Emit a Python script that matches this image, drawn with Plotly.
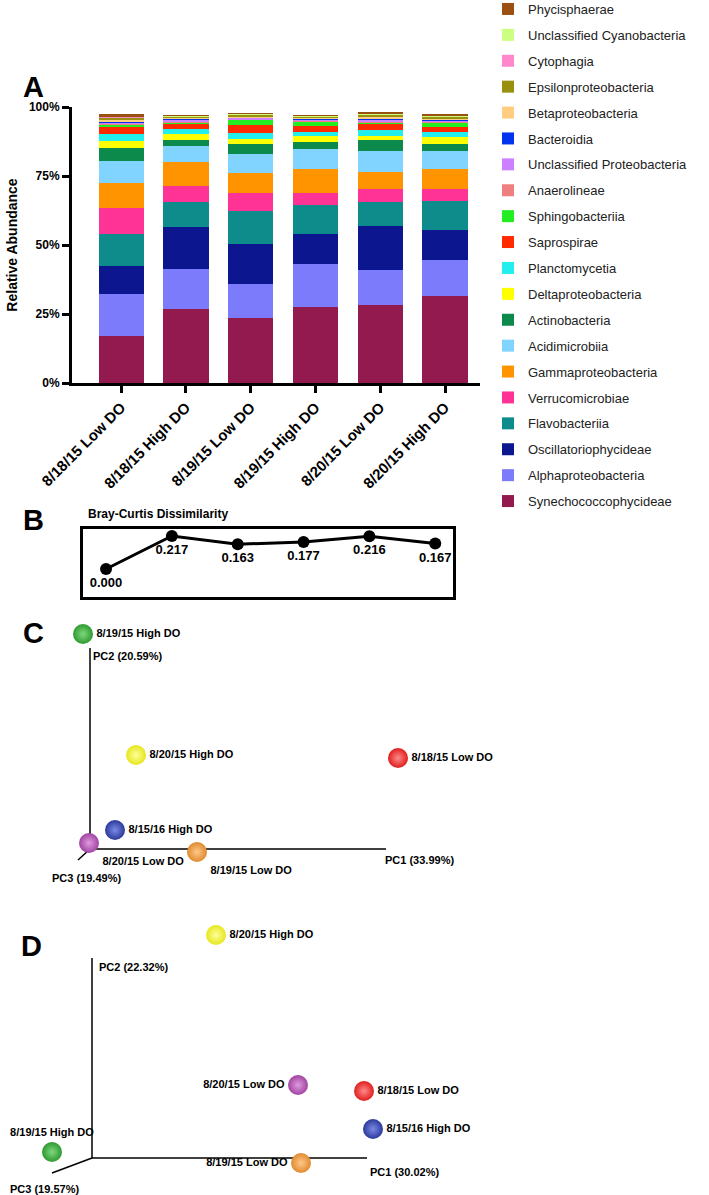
import plotly.graph_objects as go

W, H = 709, 1195

# ---------------- Panel A data (relative abundance, %) ----------------
samples = ["8/18/15 Low DO", "8/18/15 High DO", "8/19/15 Low DO",
           "8/19/15 High DO", "8/20/15 Low DO", "8/20/15 High DO"]

synechococcophycideae = [17.0, 26.9, 23.4, 27.6, 28.2, 31.6]
alphaproteobacteria = [15.4, 14.3, 12.5, 15.5, 12.7, 13.0]
oscillatoriophycideae = [10.0, 15.4, 14.6, 10.9, 16.1, 10.9]
flavobacteriia = [11.5, 9.1, 11.9, 10.5, 8.5, 10.4]
verrucomicrobiae = [9.6, 5.8, 6.6, 4.2, 4.9, 4.3]
gammaproteobacteria = [8.8, 8.4, 7.2, 8.7, 6.2, 7.4]
acidimicrobiia = [8.1, 6.0, 6.6, 7.3, 7.5, 6.5]
actinobacteria = [4.6, 2.1, 3.7, 2.6, 3.9, 2.4]
deltaproteobacteria = [2.7, 2.3, 1.9, 2.3, 1.5, 2.7]
planctomycetia = [2.6, 1.8, 2.3, 1.3, 2.2, 1.9]
saprospirae = [2.6, 2.0, 2.6, 2.2, 2.3, 1.8]
sphingobacteriia = [0.6, 0.3, 2.0, 1.6, 0.5, 1.5]
anaerolineae = [0.4, 0.5, 0.3, 0.3, 0.4, 0.3]
unclassified_proteobacteria = [0.6, 0.5, 0.5, 0.5, 0.5, 0.5]
bacteroidia = [0.3, 0.3, 0.2, 0.2, 0.3, 0.3]
betaproteobacteria = [0.5, 0.4, 0.4, 0.5, 0.8, 0.5]
epsilonproteobacteria = [0.8, 0.3, 0.4, 0.3, 0.6, 0.5]
cytophagia = [0.3, 0.2, 0.2, 0.2, 0.2, 0.2]
unclassified_cyanobacteria = [0.3, 0.2, 0.2, 0.2, 0.2, 0.2]
phycisphaerae = [0.6, 0.3, 0.2, 0.2, 0.4, 0.4]

taxa = [
    ("Synechococcophycideae", synechococcophycideae, "#931A4F"),
    ("Alphaproteobacteria", alphaproteobacteria, "#7B7BFB"),
    ("Oscillatoriophycideae", oscillatoriophycideae, "#0B168F"),
    ("Flavobacteriia", flavobacteriia, "#0E8C8C"),
    ("Verrucomicrobiae", verrucomicrobiae, "#FF3396"),
    ("Gammaproteobacteria", gammaproteobacteria, "#FF9400"),
    ("Acidimicrobiia", acidimicrobiia, "#80D4FF"),
    ("Actinobacteria", actinobacteria, "#0C8A4C"),
    ("Deltaproteobacteria", deltaproteobacteria, "#FFFF00"),
    ("Planctomycetia", planctomycetia, "#22EEEE"),
    ("Saprospirae", saprospirae, "#FF2A00"),
    ("Sphingobacteriia", sphingobacteriia, "#22EE22"),
    ("Anaerolineae", anaerolineae, "#F08080"),
    ("Unclassified Proteobacteria", unclassified_proteobacteria, "#CC80FF"),
    ("Bacteroidia", bacteroidia, "#0033EE"),
    ("Betaproteobacteria", betaproteobacteria, "#FFCC80"),
    ("Epsilonproteobacteria", epsilonproteobacteria, "#9A9010"),
    ("Cytophagia", cytophagia, "#FF88CC"),
    ("Unclassified Cyanobacteria", unclassified_cyanobacteria, "#CCFF80"),
    ("Phycisphaerae", phycisphaerae, "#9A5010"),
]
y_ticks = [0, 25, 50, 75, 100]
y_ticktext = ["0%", "25%", "50%", "75%", "100%"]

# ---------------- Panel B data ----------------
bray_curtis = [0.000, 0.217, 0.163, 0.177, 0.216, 0.167]

# ---------------- Panel C / D data (projected PCoA coordinates) ----------------
pcoa_samples = ["8/19/15 High DO", "8/20/15 High DO", "8/18/15 Low DO",
                "8/15/16 High DO", "8/20/15 Low DO", "8/19/15 Low DO"]
sample_colors = ["#2E9A2E", "#E6E61E", "#E01E1E", "#2B3A9A", "#A044A0", "#E08A30"]
sample_centers = ["#7FD77F", "#FFFF9A", "#FF8A8A", "#7C8AE6", "#E09AE0", "#FFC88A"]

pcoa_c_x = [-7, 46, 308, 25, -1, 107]
pcoa_c_y = [215, 94, 91, 19, 6, -3]
pcoa_c_textpos = ["middle right", "middle right", "middle right",
                  "middle right", "bottom right", "bottom right"]
pcoa_c_axes = {"PC1 (33.99%)": (296, 0), "PC2 (20.59%)": (0, 201), "PC3 (19.49%)": (-12, -11)}

pcoa_d_x = [-40, 124, 272, 281, 206, 209]
pcoa_d_y = [6, 223, 67, 29, 73, -5]
pcoa_d_textpos = ["top center", "middle right", "middle right",
                  "middle right", "middle left", "middle left"]
pcoa_d_axes = {"PC1 (30.02%)": (275, 0), "PC2 (22.32%)": (0, 200), "PC3 (19.57%)": (-40, -15)}


def dom_x(a, b):
    return [a / W, b / W]


def dom_y(top, bottom):
    return [1 - bottom / H, 1 - top / H]


NARROW = "Liberation Sans Narrow, Arial Narrow, Liberation Sans, Arial"
fig = go.Figure()

# Panel A bars
n = len(taxa)
for i, (name, vals, col) in enumerate(taxa):
    fig.add_trace(go.Bar(
        x=samples, y=vals, name=name, marker=dict(color=col, line=dict(width=0)),
        width=0.70, xaxis="x", yaxis="y", legendgroup=name, legendrank=n - i,
    ))

# Panel B
fig.add_trace(go.Scatter(
    x=list(range(len(bray_curtis))), y=bray_curtis, mode="lines+markers+text",
    text=[f"{v:.3f}" for v in bray_curtis], textposition="bottom center",
    textfont=dict(family=NARROW, size=13, color="black", weight="bold"),
    line=dict(color="black", width=3), marker=dict(color="black", size=12),
    xaxis="x2", yaxis="y2", showlegend=False, cliponaxis=False,
))


def add_pcoa(xs, ys, textpos, axes, xa, ya):
    for label, (ax, ay) in axes.items():
        fig.add_trace(go.Scatter(x=[0, ax], y=[0, ay], mode="lines",
                                 line=dict(color="black", width=1.5),
                                 xaxis=xa, yaxis=ya, showlegend=False,
                                 hoverinfo="skip", cliponaxis=False))
    fig.add_trace(go.Scatter(
        x=xs, y=ys, mode="markers+text", text=pcoa_samples, textposition=textpos,
        textfont=dict(family=NARROW, size=11, color="black", weight="bold"),
        marker=dict(size=20, color=sample_colors,
                    gradient=dict(type="radial", color=sample_centers),
                    line=dict(width=0)),
        xaxis=xa, yaxis=ya, showlegend=False, cliponaxis=False,
    ))


add_pcoa(pcoa_c_x, pcoa_c_y, pcoa_c_textpos, pcoa_c_axes, "x3", "y3")
add_pcoa(pcoa_d_x, pcoa_d_y, pcoa_d_textpos, pcoa_d_axes, "x4", "y4")

annotations = []
c_lab = {"PC1 (33.99%)": (293, -11), "PC2 (20.59%)": (1, 193), "PC3 (19.49%)": (-40, -29)}
d_lab = {"PC1 (30.02%)": (276, -14), "PC2 (22.32%)": (5, 191), "PC3 (19.57%)": (-84, -31)}
for labs, xa, ya in ((c_lab, "x3", "y3"), (d_lab, "x4", "y4")):
    for lab, (lx, ly) in labs.items():
        annotations.append(dict(x=lx, y=ly, xref=xa, yref=ya, text=lab, showarrow=False,
                                xanchor="left", yanchor="middle",
                                font=dict(family=NARROW, size=11, color="black", weight="bold")))

# panel letters
for letter, (px, py) in {"A": (33, 87), "B": (33, 520), "C": (33, 633), "D": (31, 946)}.items():
    annotations.append(dict(x=px / W, y=1 - py / H, xref="paper", yref="paper", text=letter,
                            showarrow=False, xanchor="center", yanchor="middle",
                            font=dict(family="Liberation Sans, Arial", size=29, color="black",
                                      weight="bold")))
annotations.append(dict(x=86 / W, y=1 - 514 / H, xref="paper", yref="paper",
                        text="Bray-Curtis Dissimilarity", showarrow=False,
                        xanchor="left", yanchor="middle",
                        font=dict(family=NARROW, size=12, color="black", weight="bold")))

fig.update_layout(
    width=W, height=H, margin=dict(l=0, r=0, t=0, b=0, autoexpand=False),
    paper_bgcolor="white", plot_bgcolor="white",
    barmode="stack", bargap=0.3,
    font=dict(family="Liberation Sans, Arial", color="black"),
    showlegend=True,
    legend=dict(x=488 / W, y=1 + 6 / H, xanchor="left", yanchor="top",
                traceorder="grouped", tracegroupgap=6,
                font=dict(family="Liberation Sans, Arial", size=13, color="#222"),
                bgcolor="rgba(0,0,0,0)"),
    xaxis=dict(domain=dom_x(72, 480), anchor="y", range=[-0.76, 5.54], automargin=False,
               showline=True, linewidth=3, linecolor="black", ticks="outside",
               ticklen=7, tickwidth=3, tickcolor="black", tickangle=-45,
               tickfont=dict(family=NARROW, size=15, color="black", weight="bold"),
               showgrid=False, zeroline=False, fixedrange=True),
    yaxis=dict(domain=dom_y(107, 383), anchor="x", range=[0, 100], automargin=False,
               tickvals=y_ticks, ticktext=y_ticktext,
               showline=True, linewidth=3, linecolor="black", ticks="outside",
               ticklen=7, tickwidth=3, tickcolor="black",
               tickfont=dict(family=NARROW, size=12, color="black", weight="bold"),
               title=dict(text="Relative Abundance", standoff=8,
                          font=dict(family="Liberation Sans, Arial", size=14,
                                    color="black", weight="bold")),
               showgrid=False, zeroline=False),
    xaxis2=dict(domain=dom_x(83, 453), anchor="y2", range=[-0.35, 5.27], automargin=False,
                showline=True, mirror=True, linewidth=3, linecolor="black",
                showticklabels=False, ticks="", showgrid=False, zeroline=False),
    yaxis2=dict(domain=dom_y(529, 597), anchor="x2", range=[-0.184, 0.263], automargin=False,
                showline=True, mirror=True, linewidth=3, linecolor="black",
                showticklabels=False, ticks="", showgrid=False, zeroline=False),
    xaxis3=dict(domain=dom_x(0, 480), anchor="y3", range=[-90, 390], visible=False),
    yaxis3=dict(domain=dom_y(620, 890), anchor="x3", range=[-41, 229], visible=False),
    xaxis4=dict(domain=dom_x(0, 480), anchor="y4", range=[-92, 388], visible=False),
    yaxis4=dict(domain=dom_y(900, 1195), anchor="x4", range=[-37, 258], visible=False),
    annotations=annotations,
)

fig.write_html("out.html", config={"displayModeBar": False},
               post_script="document.body.style.margin='0';document.body.style.overflow='hidden';")
